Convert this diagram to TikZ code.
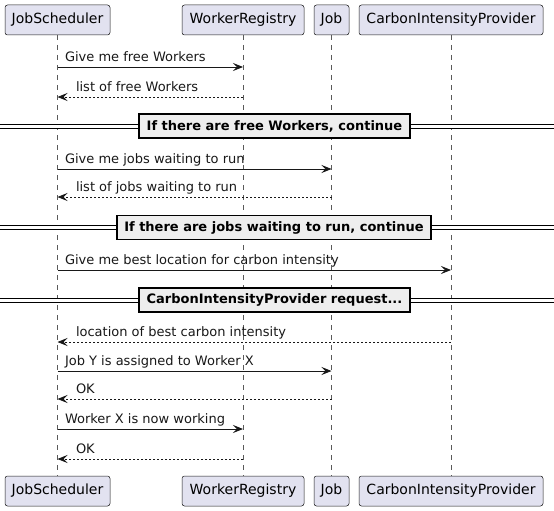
\documentclass[tikz,border=0pt]{standalone}
\usepackage{fontspec}
\setmainfont{DejaVu Sans}
\usetikzlibrary{arrows.meta}
\definecolor{pbox}{RGB}{226,226,240}
\definecolor{pline}{RGB}{24,24,24}
\definecolor{pgrey}{RGB}{238,238,238}
\definecolor{plife}{RGB}{90,90,90}

\begin{document}
\begin{tikzpicture}[x=1pt,y=-1pt,font=\fontsize{13}{15}\selectfont]
    \tikzstyle{every node}=[inner sep=0,outer sep=0]
    \tikzstyle{actor}=[draw=pline,fill=pbox,rounded corners=2.5pt,line width=0.5pt,minimum height=30pt,font=\fontsize{14}{16}\selectfont]
    \tikzstyle{life}=[plife,line width=0.5pt,dash pattern=on 5pt off 5pt]
    \tikzstyle{msg}=[pline,line width=0.9pt,-{Stealth[length=10pt,width=8pt,inset=4pt]}]
    \tikzstyle{ret}=[msg,dash pattern=on 2pt off 2pt]
    \tikzstyle{lbl}=[anchor=base west,text=pline,yshift=5.5pt]
    \tikzstyle{sepbox}=[draw=black,fill=pgrey,line width=1.5pt,minimum height=24pt,font=\fontsize{13}{15}\selectfont\bfseries]
    \tikzstyle{sepline}=[black,line width=1pt,double,double distance=3pt]
    \useasboundingbox (0,0) rectangle (554,511);

    % participants, top and bottom
    \node[actor,minimum width=105pt] (sT) at (57.5,20) {JobScheduler};
    \node[actor,minimum width=122pt] (wT) at (243,20) {WorkerRegistry};
    \node[actor,minimum width=35pt] (jT) at (331.5,20) {Job};
    \node[actor,minimum width=184pt] (cT) at (451,20) {CarbonIntensityProvider};
    \node[actor,minimum width=105pt] (sB) at (57.5,491) {JobScheduler};
    \node[actor,minimum width=122pt] (wB) at (243,491) {WorkerRegistry};
    \node[actor,minimum width=35pt] (jB) at (331.5,491) {Job};
    \node[actor,minimum width=184pt] (cB) at (451,491) {CarbonIntensityProvider};

    \draw[life] (sT) -- (sB);
    \draw[life] (wT) -- (wB);
    \draw[life] (jT) -- (jB);
    \draw[life] (cT) -- (cB);

    % one row of points on the lifelines for every message
    \foreach \n/\y in {1/67,2/97,3/169,4/197,5/270,6/342,7/371,8/399,9/429,10/459}
        \foreach \p in {s,w,j,c}
            \coordinate (\p\n) at (\p T |- 0,\y);

    \draw[msg] (s1) -- (w1) node[lbl,pos=0,xshift=7.5pt] (t1) {Give me free Workers};
    \draw[ret] (w2) -- (s2) node[lbl,pos=1,xshift=18.5pt] (t2) {list of free Workers};

    \draw[sepline] (0,126) -- (554,126);
    \node[sepbox,minimum width=271pt] (d1) at (274.5,126) {If there are free Workers, continue};

    \draw[msg] (s3) -- (j3) node[lbl,pos=0,xshift=7.5pt] (t3) {Give me jobs waiting to run};
    \draw[ret] (j4) -- (s4) node[lbl,pos=1,xshift=18.5pt] (t4) {list of jobs waiting to run};

    \draw[sepline] (0,227.5) -- (554,227.5);
    \node[sepbox,minimum width=314pt] (d2) at (274,227.5) {If there are jobs waiting to run, continue};

    \draw[msg] (s5) -- (c5) node[lbl,pos=0,xshift=7.5pt] (t5) {Give me best location for carbon intensity};

    \draw[sepline] (0,300) -- (554,300);
    \node[sepbox,minimum width=271pt] (d3) at (274.5,300) {CarbonIntensityProvider request...};

    \draw[ret] (c6) -- (s6) node[lbl,pos=1,xshift=18.5pt] (t6) {location of best carbon intensity};
    \draw[msg] (s7) -- (j7) node[lbl,pos=0,xshift=7.5pt] (t7) {Job Y is assigned to Worker X};
    \draw[ret] (j8) -- (s8) node[lbl,pos=1,xshift=18.5pt] (t8) {OK};
    \draw[msg] (s9) -- (w9) node[lbl,pos=0,xshift=7.5pt] (t9) {Worker X is now working};
    \draw[ret] (w10) -- (s10) node[lbl,pos=1,xshift=18.5pt] (t10) {OK};
\end{tikzpicture}
\end{document}
